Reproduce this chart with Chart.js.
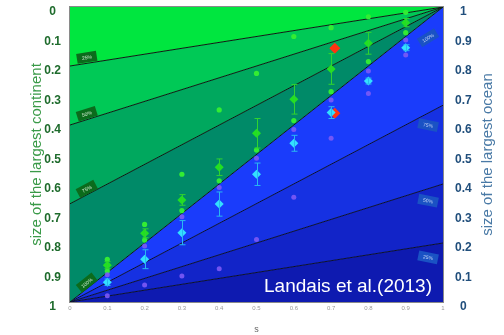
<!DOCTYPE html>
<html>
<head>
<meta charset="utf-8">
<script src="https://cdn.jsdelivr.net/npm/chart.js@4.4.1/dist/chart.umd.min.js"></script>
<style>
  html, body { margin: 0; padding: 0; background: #fff; }
  #wrap { width: 504px; height: 335px; }
</style>
</head>
<body>
<div id="wrap"><canvas id="chart" width="504" height="335"></canvas></div>
<script>
// ----------- Data -----------
const sValues = [0.1, 0.2, 0.3, 0.4, 0.5, 0.6, 0.7, 0.8, 0.9];
const xTickLabels = ['0', '0.1', '0.2', '0.3', '0.4', '0.5', '0.6', '0.7', '0.8', '0.9', '1'];
const leftTickLabels = ['0', '0.1', '0.2', '0.3', '0.4', '0.5', '0.6', '0.7', '0.8', '0.9', '1'];
const rightTickLabels = ['0', '0.1', '0.2', '0.3', '0.4', '0.5', '0.6', '0.7', '0.8', '0.9', '1'];

// continent (left axis, 0 at top)
const contTop = [0.855, 0.737, 0.567, 0.349, 0.225, 0.10, 0.07, 0.033, 0.018];
const contMean = [0.875, 0.767, 0.654, 0.543, 0.428, 0.313, 0.21, 0.123, 0.053];
const contErr = [0.012, 0.015, 0.018, 0.028, 0.05, 0.05, 0.052, 0.037, 0.014];
const contBottom = [0.895, 0.79, 0.69, 0.589, 0.485, 0.385, 0.287, 0.185, 0.087];

// ocean (right axis, 0 at bottom)
const oceanTop = [0.092, 0.19, 0.289, 0.388, 0.487, 0.585, 0.685, 0.783, 0.888];
const oceanMean = [0.067, 0.145, 0.235, 0.332, 0.433, 0.538, 0.642, 0.749, 0.862];
const oceanErr = [0.011, 0.032, 0.041, 0.041, 0.038, 0.027, 0.02, 0.01, 0.01];
const oceanBottom = [0.021, 0.058, 0.088, 0.113, 0.212, 0.355, 0.555, 0.707, 0.837];

// red markers
const redS = [0.71];
const redCont = [0.14];
const redOcean = [0.64];

// fan lines: continent values at s=0 (green), ocean values at s=1 (blue)
const fanLeft = [0, 0.2, 0.4, 0.667, 1];
const fanRight = [1, 0.667, 0.4, 0.2, 0];
const fanPct = ['25%', '50%', '75%', '100%'];
const greenFills = ['#00e63f', '#00c956', '#00a85e', '#008a68'];
const blueFills = ['#1a3cfb', '#1631e2', '#1224c8', '#0e1ab0'];

const pts = (xs, ys) => xs.map((s, i) => ({ x: s, y: ys[i] }));
const tickAt = (labels) => (v) => labels[Math.round(v * 10)];

// ----------- Background fan datasets -----------
const bgSets = [];
fanLeft.forEach((c, i) => {
  bgSets.push({
    type: 'line', yAxisID: 'y', order: 5,
    data: [{ x: 0, y: c }, { x: 1, y: 0 }],
    borderColor: '#0d1a12', borderWidth: (i === 0) ? 0 : 1,
    pointRadius: 0, tension: 0,
    fill: i === 0 ? false : '-1',
    backgroundColor: i === 0 ? 'transparent' : greenFills[i - 1]
  });
});
fanRight.forEach((c, i) => {
  bgSets.push({
    type: 'line', yAxisID: 'yR', order: 5,
    data: [{ x: 0, y: 0 }, { x: 1, y: c }],
    borderColor: '#0a0f30', borderWidth: (i === 0 || i === fanRight.length - 1) ? 0 : 1,
    pointRadius: 0, tension: 0,
    fill: i === 0 ? false : '-1',
    backgroundColor: i === 0 ? 'transparent' : blueFills[i - 1]
  });
});

const dot = (data, axis, color, radius, style) => ({
  type: 'scatter', yAxisID: axis, order: 1,
  data: data, pointStyle: style || 'circle', pointRadius: radius,
  backgroundColor: color, borderColor: color, borderWidth: 0, showLine: false
});

const pointSets = [
  dot(pts(sValues, oceanTop), 'yR', 'rgba(125,90,245,0.9)', 2.5),
  dot(pts(sValues, oceanBottom), 'yR', 'rgba(125,90,245,0.9)', 2.5),
  dot(pts(sValues, contTop), 'y', '#33ec33', 2.6),
  dot(pts(sValues, contBottom), 'y', '#33ec33', 2.6),
  dot(pts(sValues, oceanMean), 'yR', '#33e0ff', 4.5, 'rectRot'),
  dot(pts(sValues, contMean), 'y', '#22e022', 4.5, 'rectRot'),
  dot(pts(redS, redCont), 'y', '#ff3311', 5.5, 'rectRot'),
  dot(pts(redS, redOcean), 'yR', '#ff3311', 5.5, 'rectRot')
];

// ----------- Plugins -----------
const extras = {
  id: 'extras',
  afterDatasetsDraw(chart) {
    const { ctx, chartArea: a, scales } = chart;
    const x = scales.x, y = scales.y, yR = scales.yR;
    ctx.save();

    // error bars
    const bars = (vals, errs, scale, color) => {
      ctx.strokeStyle = color;
      ctx.lineWidth = 1;
      vals.forEach((v, i) => {
        const px = Math.round(x.getPixelForValue(sValues[i])) + 0.5;
        const p1 = scale.getPixelForValue(v - errs[i]);
        const p2 = scale.getPixelForValue(v + errs[i]);
        ctx.beginPath();
        ctx.moveTo(px, p1); ctx.lineTo(px, p2);
        ctx.moveTo(px - 3, p1); ctx.lineTo(px + 3, p1);
        ctx.moveTo(px - 3, p2); ctx.lineTo(px + 3, p2);
        ctx.stroke();
      });
    };
    bars(contMean, contErr, y, '#2fd42f');
    bars(oceanMean, oceanErr, yR, '#2ab8f0');

    // fan labels
    const tag = (px, py, ang, txt, bg, fg) => {
      ctx.save();
      ctx.translate(px, py);
      ctx.rotate(ang);
      ctx.fillStyle = bg;
      ctx.fillRect(-10, -5, 20, 10);
      ctx.fillStyle = fg;
      ctx.font = '5px "Liberation Sans", Arial, sans-serif';
      ctx.textAlign = 'center';
      ctx.textBaseline = 'middle';
      ctx.fillText(txt, 0, 0.5);
      ctx.restore();
    };
    const s0 = 0.045;
    fanLeft.slice(1).forEach((c, i) => {
      const ang = Math.atan2(y.getPixelForValue(0) - y.getPixelForValue(c), x.getPixelForValue(1) - x.getPixelForValue(0));
      const px = x.getPixelForValue(s0);
      const py = y.getPixelForValue(c * (1 - s0)) - 6;
      tag(px, py, ang, fanPct[i], '#0b6b1c', '#d8f0d8');
    });
    const s1 = 0.96;
    fanRight.slice(0, 4).forEach((c, i) => {
      const ang = (c === 1) ? -0.55 : 0.2;
      const px = x.getPixelForValue(s1);
      const py = yR.getPixelForValue(c * s1) + (c === 1 ? 19 : 12);
      tag(px, py, ang, fanPct[3 - i], '#1a52c4', '#c8d8f8');
    });

    // frame
    ctx.strokeStyle = '#8a8a8a';
    ctx.lineWidth = 1;
    ctx.strokeRect(a.left - 0.5, a.top - 0.5, a.right - a.left + 1, a.bottom - a.top + 1);

    // citation
    ctx.fillStyle = '#ffffff';
    ctx.font = '19px "Liberation Sans", Arial, sans-serif';
    ctx.textAlign = 'right';
    ctx.textBaseline = 'alphabetic';
    ctx.fillText('Landais et al.(2013)', a.right - 11, a.bottom - 10);

    // right axis title, reading bottom to top
    ctx.translate(488, (a.top + a.bottom) / 2);
    ctx.rotate(-Math.PI / 2);
    ctx.fillStyle = '#4a7aa6';
    ctx.font = '15px "Liberation Sans", Arial, sans-serif';
    ctx.textAlign = 'center';
    ctx.textBaseline = 'middle';
    ctx.fillText('size of the largest ocean', 0, 0);
    ctx.restore();
  }
};

const noPadV = (w) => (s) => { s.width = w; s.paddingTop = 0; s.paddingBottom = 0; };

new Chart(document.getElementById('chart'), {
  data: { datasets: [...bgSets, ...pointSets] },
  options: {
    responsive: false,
    animation: false,
    layout: { padding: { top: 7, right: 0, left: 0, bottom: 0 } },
    plugins: { legend: { display: false }, tooltip: { enabled: false } },
    scales: {
      x: {
        type: 'linear', position: 'bottom', min: 0, max: 1,
        afterFit: (s) => { s.height = 33; s.paddingLeft = 0; s.paddingRight = 0; },
        grid: { display: false, drawTicks: false },
        border: { display: false },
        ticks: {
          stepSize: 0.1, padding: 3, color: '#9a9a9a', maxRotation: 0, autoSkip: false,
          font: { size: 6, family: '"Liberation Sans", Arial, sans-serif' },
          callback: tickAt(xTickLabels)
        },
        title: {
          display: true, text: 's', color: '#666',
          font: { size: 9, family: '"Liberation Sans", Arial, sans-serif' },
          padding: { top: 0, bottom: 0 }
        }
      },
      y: {
        type: 'linear', position: 'left', min: 0, max: 1, reverse: true,
        afterFit: noPadV(70),
        grid: { display: false, drawTicks: false },
        border: { display: false },
        ticks: {
          stepSize: 0.1, padding: 9, crossAlign: 'center', labelOffset: 5,
          color: '#1e6b2c',
          font: { size: 12, weight: 'bold', family: '"Liberation Sans", Arial, sans-serif' },
          callback: tickAt(leftTickLabels)
        },
        title: {
          display: true, text: 'size of the largest continent', color: '#3a9a48',
          font: { size: 15, family: '"Liberation Sans", Arial, sans-serif' },
          padding: { top: 28, bottom: 0 }
        }
      },
      yR: {
        type: 'linear', position: 'right', min: 0, max: 1,
        afterFit: noPadV(61),
        grid: { display: false, drawTicks: false },
        border: { display: false },
        ticks: {
          stepSize: 0.1, padding: 12, crossAlign: 'center', labelOffset: 5,
          color: '#214f7c',
          font: { size: 12, weight: 'bold', family: '"Liberation Sans", Arial, sans-serif' },
          callback: tickAt(rightTickLabels)
        },
        title: { display: false }
      }
    }
  },
  plugins: [extras]
});
</script>
</body>
</html>
